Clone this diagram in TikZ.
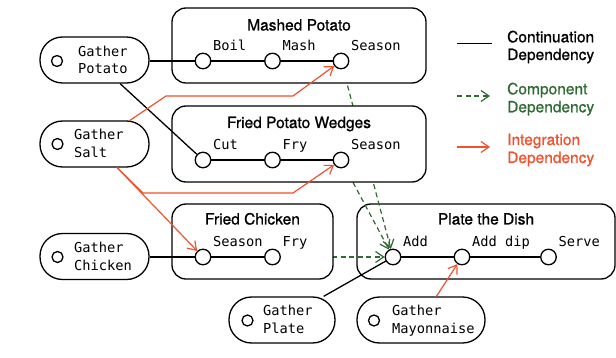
\documentclass[tikz,border=0pt]{standalone}
\usepackage{fontspec}
\setmainfont{TeX Gyre Heros}
\newfontfamily\monofont{DejaVu Sans Mono}
\newfontfamily\titlefont[FakeBold=0.9]{TeX Gyre Heros}
\usetikzlibrary{arrows.meta}
\definecolor{intred}{HTML}{F0522D}
\definecolor{compgreen}{HTML}{2F6B33}
\tikzset{
 stepgroup/.style={draw, line width=1.3pt, rounded corners=14pt, fill=white, inner sep=0pt},
 pill/.style={draw, line width=1.3pt, rounded corners=22.5pt, fill=white, minimum height=46pt, inner sep=0pt},
 stepdot/.style={circle, draw, line width=1.3pt, fill=white, minimum size=15.5pt, inner sep=0pt},
 smalldot/.style={circle, draw, line width=1.3pt, fill=white, minimum size=11pt, inner sep=0pt},
 grouptitle/.style={font=\titlefont\fontsize{15.5}{18}\selectfont, anchor=base, inner sep=0pt},
 mono/.style={font=\monofont\fontsize{13.7}{17}\selectfont, anchor=base west, inner sep=0pt},
 legendtext/.style={font=\titlefont\fontsize{15.5}{18}\selectfont, anchor=base west, inner sep=0pt},
 cont/.style={line width=1.3pt, black},
 comp/.style={line width=1.2pt, compgreen, dash pattern=on 5pt off 3.5pt, -{Straight Barb[length=8pt,width=11pt]}},
 integ/.style={line width=1.2pt, intred, -{Straight Barb[length=8pt,width=11pt]}},
}
\begin{document}
\begin{tikzpicture}[x=1pt,y=-1pt]
\useasboundingbox (0,0) rectangle (616,358);
% step positions
\coordinate (p-boil) at (203,61);
\coordinate (p-mash) at (272.5,61);
\coordinate (p-ms) at (341,61);
\coordinate (p-cut) at (203,160);
\coordinate (p-wfry) at (272.5,160);
\coordinate (p-ws) at (341,160);
\coordinate (p-cs) at (203,257);
\coordinate (p-cfry) at (272.5,257);
\coordinate (p-add) at (393,257);
\coordinate (p-adddip) at (462,257);
\coordinate (p-serve) at (548.5,257);
% plate box (below the component arrows)
\node[stepgroup, minimum width=258pt, minimum height=75pt] (plate) at (486,241.5) {};
% component dependencies (hidden by the other group boxes)
\draw[comp, shorten >=8.4pt] (p-ms) -- (p-add);
\draw[comp, shorten >=8.4pt] (p-ws) -- (p-add);
\draw[comp, shorten >=8.4pt] (p-cfry) -- (p-add);
% other group boxes
\node[stepgroup, minimum width=254pt, minimum height=75pt] (mashed) at (299,45.5) {};
\node[stepgroup, minimum width=254pt, minimum height=76pt] (wedges) at (299,144) {};
\node[stepgroup, minimum width=161pt, minimum height=75pt] (chicken) at (252.5,241.5) {};
% titles
\node[grouptitle] (mashed-t) at (299,30.5) {Mashed Potato};
\node[grouptitle] (wedges-t) at (299,128) {Fried Potato Wedges};
\node[grouptitle] (chicken-t) at (252.5,224.5) {Fried Chicken};
\node[grouptitle] (plate-t) at (486,224.5) {Plate the Dish};
% step dots
\node[stepdot] (boil) at (p-boil) {};
\node[stepdot] (mash) at (p-mash) {};
\node[stepdot] (ms) at (p-ms) {};
\node[stepdot] (cut) at (p-cut) {};
\node[stepdot] (wfry) at (p-wfry) {};
\node[stepdot] (ws) at (p-ws) {};
\node[stepdot] (cs) at (p-cs) {};
\node[stepdot] (cfry) at (p-cfry) {};
\node[stepdot] (add) at (p-add) {};
\node[stepdot] (adddip) at (p-adddip) {};
\node[stepdot] (serve) at (p-serve) {};
% step labels
\node[mono] (boil-l) at (213,51) {Boil};
\node[mono] (mash-l) at (282.5,51) {Mash};
\node[mono] (ms-l) at (351,51) {Season};
\node[mono] (cut-l) at (213,150) {Cut};
\node[mono] (wfry-l) at (282.5,150) {Fry};
\node[mono] (ws-l) at (351,150) {Season};
\node[mono] (cs-l) at (213,247) {Season};
\node[mono] (cfry-l) at (282.5,247) {Fry};
\node[mono] (add-l) at (403,247) {Add};
\node[mono] (adddip-l) at (472,247) {Add dip};
\node[mono] (serve-l) at (558.5,247) {Serve};
% gather pills
\node[pill, minimum width=109pt] (gpot) at (94.5,60) {};
\node[pill, minimum width=109pt] (gsalt) at (94.5,144) {};
\node[pill, minimum width=109pt] (gchick) at (94.5,256.5) {};
\node[pill, minimum width=106pt] (gplate) at (282,320) {};
\node[pill, minimum width=128pt] (gmayo) at (421,320) {};
\node[smalldot] (gpot-d) at (57,61) {};
\node[smalldot] (gsalt-d) at (57.5,144) {};
\node[smalldot] (gchick-d) at (57.5,257) {};
\node[smalldot] (gplate-d) at (247.5,320.5) {};
\node[smalldot] (gmayo-d) at (374,320.5) {};
\node[mono] (gpot-1) at (78,56.5) {Gather};
\node[mono] (gpot-2) at (78,73.8) {Potato};
\node[mono] (gsalt-1) at (74,140) {Gather};
\node[mono] (gsalt-2) at (74,157.3) {Salt};
\node[mono] (gchick-1) at (74,252.3) {Gather};
\node[mono] (gchick-2) at (74,270) {Chicken};
\node[mono] (gplate-1) at (263,316) {Gather};
\node[mono] (gplate-2) at (263,333.3) {Plate};
\node[mono] (gmayo-1) at (392,316) {Gather};
\node[mono] (gmayo-2) at (392,333.3) {Mayonnaise};
% continuation dependencies
\draw[cont] (gpot.east |- boil) -- (boil) -- (mash) -- (ms);
\draw[cont] (gpot) -- (cut);
\draw[cont] (cut) -- (wfry) -- (ws);
\draw[cont] (gchick.east |- cs) -- (cs) -- (cfry);
\draw[cont] (add) -- (adddip) -- (serve);
\draw[cont] (gplate) -- (add);
% integration dependencies
\coordinate (salttop) at (129,121);
\coordinate (saltbot) at (117,167.5);
\draw[integ] (salttop) -- (166,96) -- (293,96) -- (ms);
\draw[integ] (saltbot) -- (143,193) -- (293,193) -- (ws);
\draw[integ] (saltbot) -- (cs);
\draw[integ] (gmayo) -- (adddip);
% legend
\coordinate (lg1a) at (457,43.5);
\coordinate (lg1b) at (492,43.5);
\coordinate (lg2a) at (457,96);
\coordinate (lg2b) at (490,96);
\coordinate (lg3a) at (457,147);
\coordinate (lg3b) at (490,147);
\draw[cont] (lg1a) -- (lg1b);
\draw[comp] (lg2a) -- (lg2b);
\draw[integ] (lg3a) -- (lg3b);
\node[legendtext] (lg1t) at (507,42.3) {Continuation};
\node[legendtext] (lg1u) at (507,60) {Dependency};
\node[legendtext, text=compgreen] (lg2t) at (507,94.3) {Component};
\node[legendtext, text=compgreen] (lg2u) at (507,112.3) {Dependency};
\node[legendtext, text=intred] (lg3t) at (507,145) {Integration};
\node[legendtext, text=intred] (lg3u) at (507,163) {Dependency};
\end{tikzpicture}
\end{document}
